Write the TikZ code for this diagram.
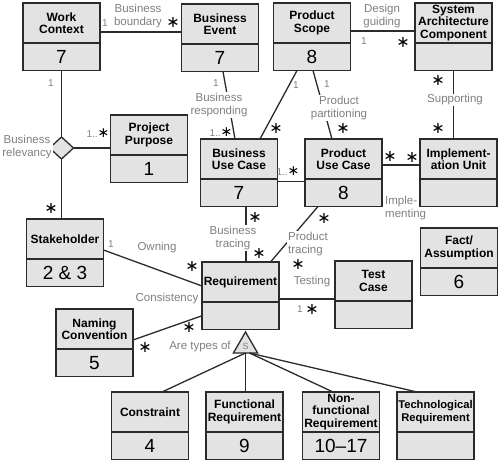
\documentclass[tikz,border=0pt]{standalone}
\usepackage{fontspec}
\setmainfont{Liberation Sans}
\newfontfamily\multfont{DejaVu Sans}
\usetikzlibrary{positioning, calc, shapes.geometric}
\definecolor{boxgray}{HTML}{E3E3E3}
\definecolor{boxborder}{HTML}{2B2B2B}
\definecolor{labelgray}{HTML}{808080}

\begin{document}
\begin{tikzpicture}[x=1pt, y=-1pt,
    title/.style={draw=boxborder, fill=boxgray, line width=1.3pt, outer sep=0pt,
      minimum width=77pt, minimum height=40pt, inner sep=1pt, align=center,
      anchor=north, font=\fontsize{12}{12.5}\selectfont\bfseries},
    number/.style={draw=boxborder, fill=boxgray, line width=1.3pt, outer sep=0pt,
      minimum width=77pt, minimum height=27.5pt, inner sep=1pt,
      font=\fontsize{19}{19}\selectfont},
    link/.style={draw=boxborder, line width=1.3pt},
    rolename/.style={text=labelgray, fill=white, align=center, inner sep=1pt,
      font=\fontsize{11.5}{13.5}\selectfont},
    mult/.style={text=labelgray, inner sep=0pt, font=\fontsize{10}{10}\selectfont},
    many/.style={inner sep=0pt, font=\multfont\fontsize{16}{16}\selectfont}
  ]
  \useasboundingbox (0,0) rectangle (500,462);

  % classes
  \node[title] (wc) at (61.5,3) {Work\\Context};
  \node[number, below=0pt of wc] (wc-n) {7};
  \node[title] (be) at (220,4) {Business\\Event};
  \node[number, below=0pt of be] (be-n) {7};
  \node[title] (ps) at (312,3) {Product\\Scope};
  \node[number, below=0pt of ps] (ps-n) {8};
  \node[title] (sac) at (453.5,3) {System\\Architecture\\Component};
  \node[number, below=0pt of sac] (sac-n) {};
  \node[title] (pp) at (149,115) {Project\\Purpose};
  \node[number, below=0pt of pp] (pp-n) {1};
  \node[title] (buc) at (239,139) {Business\\Use Case};
  \node[number, below=0pt of buc] (buc-n) {7};
  \node[title] (puc) at (343.5,139) {Product\\Use Case};
  \node[number, below=0pt of puc] (puc-n) {8};
  \node[title] (iu) at (458.5,139) {Implement-\\ation Unit};
  \node[number, below=0pt of iu] (iu-n) {};
  \node[title] (fa) at (459,228) {Fact/\\Assumption};
  \node[number, below=0pt of fa] (fa-n) {6};
  \node[title] (sh) at (65,219) {Stakeholder};
  \node[number, below=0pt of sh] (sh-n) {2 \& 3};
  \node[title] (req) at (240.5,262) {Requirement};
  \node[number, below=0pt of req] (req-n) {};
  \node[title] (tc) at (373.5,261) {Test\\Case};
  \node[number, below=0pt of tc] (tc-n) {};
  \node[title] (nc) at (94.5,309) {Naming\\Convention};
  \node[number, below=0pt of nc] (nc-n) {5};
  \node[title] (con) at (150,392) {Constraint};
  \node[number, below=0pt of con] (con-n) {4};
  \node[title] (fr) at (244.5,392) {Functional\\Requirement};
  \node[number, below=0pt of fr] (fr-n) {9};
  \node[title] (nfr) at (341,392) {Non-\\functional\\Requirement};
  \node[number, below=0pt of nfr] (nfr-n) {10--17};
  \node[title, font=\fontsize{11.2}{12.5}\selectfont\bfseries] (tr) at (435.5,392)
    {Technological\\Requirement};
  \node[number, below=0pt of tr] (tr-n) {};

  % associations
  \node[diamond, draw=boxborder, fill=boxgray, line width=1.3pt, outer sep=0pt,
    inner sep=0pt, minimum width=24pt, minimum height=22pt] (rel) at (61.5,148) {};
  \draw[link] ([yshift=-9pt]wc.east) -- ([yshift=-9pt]wc.east -| be.west);
  \draw[link] (wc-n.south) -- (rel.north);
  \draw[link] (rel.east) -- (rel.east -| pp.west);
  \draw[link] (rel.south) -- (rel.south |- sh.north);
  \draw[link] ([xshift=3pt]be-n.south) -- ([xshift=-4pt]buc.north);
  \draw[link] ([xshift=-15pt]ps-n.south) -- ([xshift=21pt]buc.north);
  \draw[link] ([xshift=1pt]ps-n.south) -- ([xshift=-11.5pt]puc.north);
  \draw[link] ([yshift=-8pt]ps.east) -- ([yshift=-8pt]ps.east -| sac.west);
  \draw[link] (sac-n.south) -- (sac-n.south |- iu.north);
  \draw[link] ([yshift=-2.5pt]buc-n.north east) -- ([yshift=-2.5pt]buc-n.north east -| puc-n.west);
  \draw[link] ([yshift=-6pt]puc.east) -- ([yshift=-6pt]puc.east -| iu.west);
  \draw[link] ([xshift=7pt]buc-n.south) -- ([xshift=7pt]buc-n.south |- req.north);
  \draw[link] ([xshift=-25.5pt]puc-n.south) -- ([xshift=30pt]req.north);
  \draw[link] ([yshift=-11pt]sh.east) -- ([yshift=-4pt]req.west);
  \draw[link] ([yshift=-17pt]req.east) -- ([yshift=-17pt]req.east -| tc.west);
  \draw[link] ([yshift=-11pt]nc.east) -- (req-n.west);

  % generalisation
  \node[regular polygon, regular polygon sides=3, draw=boxborder, fill=boxgray,
    line width=1.3pt, outer sep=0pt, inner sep=0pt, minimum size=28pt,
    text=labelgray, font=\fontsize{9}{9}\selectfont] (kinds) at (245.5,346) {S};
  \draw[link] (kinds.south) -- ([xshift=12pt]con.north);
  \draw[link] (kinds.south) -- (kinds.south |- fr.north);
  \draw[link] ([xshift=4pt]kinds.south) -- ([xshift=-8pt]nfr.north);
  \draw[link] ([xshift=4pt]kinds.south) -- ([xshift=-18.5pt]tr.north);

  % association names
  \node[rolename] (boundary) at (138,16) {Business\\boundary};
  \node[rolename] (relevancy) at (27,147) {Business\\relevancy};
  \node[rolename] (responding) at (219,105) {Business\\responding};
  \node[rolename] (partitioning) at (339,108) {Product\\partitioning};
  \node[rolename] (guiding) at (382,16) {Design\\guiding};
  \node[rolename] (supporting) at (455,100) {Supporting};
  \node[rolename, fill=none, anchor=west, align=left] (implementing) at (384,208) {Imple-\\menting};
  \node[rolename] (btracing) at (233,238) {Business\\tracing};
  \node[rolename, anchor=west, align=left] (ptracing) at (287,244) {Product\\tracing};
  \node[rolename] (owning) at (157,248) {Owning};
  \node[rolename] (testing) at (312,282) {Testing};
  \node[rolename] (consistency) at (167,299) {Consistency};
  \node[rolename] (typesof) at (200,347) {Are types of};

  % multiplicities
  \node[mult] (m1) at (105,23) {1};
  \node[mult] (m2) at (51,83) {1};
  \node[mult] (m3) at (216,83) {1};
  \node[mult] (m4) at (296,85) {1};
  \node[mult] (m5) at (327,84) {1};
  \node[mult] (m6) at (364,41) {1};
  \node[mult] (m7) at (111,244) {1};
  \node[mult] (m8) at (300,309) {1};
  \node[mult] (m9) at (98,133) {1..{\color{black}\multfont\fontsize{14}{14}\selectfont ∗}};
  \node[mult] (m10) at (221,132) {1..{\color{black}\multfont\fontsize{14}{14}\selectfont ∗}};
  \node[mult] (m11) at (288,171) {1..{\color{black}\multfont\fontsize{14}{14}\selectfont ∗}};
  \node[many] (s1) at (173,22) {∗};
  \node[many] (s2) at (51,208) {∗};
  \node[many] (s3) at (276,128) {∗};
  \node[many] (s4) at (343,128) {∗};
  \node[many] (s5) at (403,42) {∗};
  \node[many] (s6) at (438,80) {∗};
  \node[many] (s7) at (438,128) {∗};
  \node[many] (s8) at (390,156) {∗};
  \node[many] (s9) at (412,157) {∗};
  \node[many] (s10) at (255,217) {∗};
  \node[many] (s11) at (259,253) {∗};
  \node[many] (s12) at (324,218) {∗};
  \node[many] (s13) at (298,264) {∗};
  \node[many] (s14) at (192,266) {∗};
  \node[many] (s15) at (312,309) {∗};
  \node[many] (s16) at (189,327) {∗};
  \node[many] (s17) at (145,347) {∗};
\end{tikzpicture}
\end{document}
